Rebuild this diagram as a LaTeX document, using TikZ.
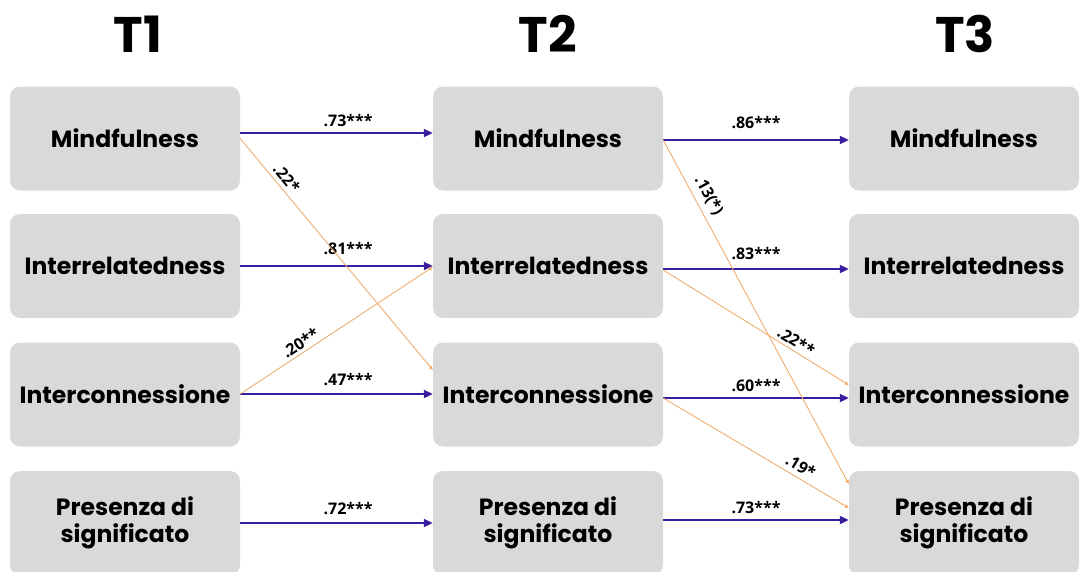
\documentclass[tikz,border=0pt]{standalone}
\usepackage{fontspec}
\setmainfont{Poppins}
\newfontfamily\labfont{Open Sans}
\usetikzlibrary{arrows.meta}
\definecolor{boxgray}{RGB}{217,217,217}
\definecolor{pathblue}{RGB}{58,28,158}
\definecolor{crossor}{RGB}{241,172,112}
\tikzset{
  var/.style={fill=boxgray, rounded corners=10pt, minimum width=230pt, minimum height=104pt,
    inner sep=0pt, align=center, font=\fontsize{23.5}{27}\selectfont\bfseries},
  title/.style={font=\fontsize{50}{50}\selectfont\bfseries},
  stab/.style={draw=pathblue, line width=2pt, -{Triangle[length=9pt,width=8pt]}},
  cross/.style={draw=crossor, line width=0.9pt, -{Triangle[length=4pt,width=3.5pt]}},
  coef/.style={font=\labfont\fontsize{16}{16}\selectfont\bfseries, inner sep=2pt, text=black},
}
\begin{document}
\begin{tikzpicture}[x=1pt, y=-1pt]
\useasboundingbox (0,0) rectangle (1085,571);
\begin{scope}
\clip (0,0) rectangle (1085,571);
% titles
\node[title] (t1) at (138,34) {T1};
\node[title] (t2) at (548,34) {T2};
\node[title] (t3) at (965,34) {T3};
% T1 column
\node[var] (m1) at (125,138.5) {Mindfulness};
\node[var] (r1) at (125,266) {Interrelatedness};
\node[var] (i1) at (125,394.5) {Interconnessione};
\node[var] (p1) at (125,523) {Presenza di\\significato};
% T2 column
\node[var] (m2) at (548,138.5) {Mindfulness};
\node[var] (r2) at (548,266) {Interrelatedness};
\node[var] (i2) at (548,394.5) {Interconnessione};
\node[var] (p2) at (548,523) {Presenza di\\significato};
% T3 column
\node[var] (m3) at (964,138.5) {Mindfulness};
\node[var] (r3) at (964,266) {Interrelatedness};
\node[var] (i3) at (964,394.5) {Interconnessione};
\node[var] (p3) at (964,523) {Presenza di\\significato};
\end{scope}
% stability paths T1 -> T2
\draw[stab] ([yshift=5.5pt]m1.east) -- node[coef, pos=0.56, above=3pt] {.73***} ([yshift=5.5pt]m2.west);
\draw[stab] (r1.east) -- node[coef, pos=0.56, above=8pt] {.81***} (r2.west);
\draw[stab] ([yshift=0.5pt]i1.east) -- node[coef, pos=0.56, above=5pt] {.47***} ([yshift=0.5pt]i2.west);
\draw[stab] (p1.east) -- node[coef, pos=0.56, above=5pt] {.72***} (p2.west);
% stability paths T2 -> T3
\draw[stab] ([yshift=-1.5pt]m2.east) -- node[coef, pos=0.5, above=8pt] {.86***} ([yshift=-1.5pt]m3.west);
\draw[stab] ([yshift=-3pt]r2.east) -- node[coef, pos=0.5, above=6pt] {.83***} ([yshift=-3pt]r3.west);
\draw[stab] ([yshift=-3.5pt]i2.east) -- node[coef, pos=0.5, above=3pt] {.60***} ([yshift=-3.5pt]i3.west);
\draw[stab] ([yshift=3pt]p2.east) -- node[coef, pos=0.5, above=3pt] {.73***} ([yshift=3pt]p3.west);
% cross-lagged paths T1 -> T2
\draw[cross] (m1.east) -- node[coef, sloped, pos=0.2, above=2pt] {.22*} ([yshift=24.5pt]i2.west);
\draw[cross] ([yshift=0.5pt]i1.east) -- node[coef, sloped, pos=0.34, above=1pt] {.20**} ([yshift=-1pt]r2.west);
% cross-lagged paths T2 -> T3
\draw[cross] ([yshift=-1.5pt]m2.east) -- node[coef, sloped, pos=0.18, above=4pt] {.13(*)} ([yshift=39pt]p3.west);
\draw[cross] ([yshift=-4pt]r2.east) -- node[coef, sloped, pos=0.69, above=1pt] {.22**} ([yshift=9.5pt]i3.west);
\draw[cross] ([yshift=-3.5pt]i2.east) -- node[coef, sloped, pos=0.71, above=3pt] {.19*} ([yshift=15pt]p3.west);
\end{tikzpicture}
\end{document}
